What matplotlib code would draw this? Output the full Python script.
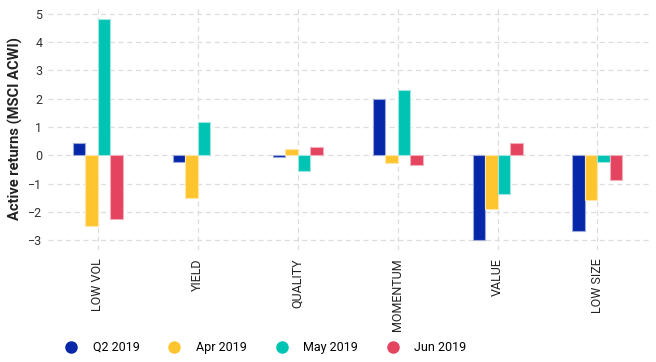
import matplotlib
matplotlib.use("Agg")
import matplotlib.pyplot as plt
import numpy as np
from matplotlib.lines import Line2D

plt.rcParams['font.family'] = ['Roboto', 'DejaVu Sans']

categories = ["LOW VOL", "YIELD", "QUALITY", "MOMENTUM", "VALUE", "LOW SIZE"]
series_names = ["Q2 2019", "Apr 2019", "May 2019", "Jun 2019"]
q2_2019 = [0.45, -0.23, -0.05, 1.97, -2.98, -2.66]
apr_2019 = [-2.50, -1.52, 0.23, -0.26, -1.89, -1.57]
may_2019 = [4.82, 1.18, -0.56, 2.32, -1.38, -0.25]
jun_2019 = [-2.25, np.nan, 0.30, -0.34, 0.43, -0.88]
series = [q2_2019, apr_2019, may_2019, jun_2019]
colors = ["#0527A8", "#FFC52F", "#00C4B3", "#E4445F"]
edge_colors = ["#9FA9D9", "#FFE5A8", "#9FE8E1", "#F3AEBB"]

fig = plt.figure(figsize=(6.56, 3.62), dpi=100)
ax = fig.add_axes([0.073, 0.309, 0.917, 0.669])

x = np.arange(len(categories))
w = 0.125
for i, (vals, c, ec) in enumerate(zip(series, colors, edge_colors)):
    ax.bar(x + (i - 1.5) * w, vals, width=w, color=c, edgecolor=ec, linewidth=0.8, zorder=3)

ax.set_xlim(-0.5, 5.52)
ax.set_ylim(-3.35, 5.2)
ax.set_yticks(range(-3, 6))
ax.set_yticklabels([str(v).replace('-', '\u2212') for v in range(-3, 6)])
ax.set_xticks(x)
ax.set_xticklabels(categories, rotation=90, fontsize=9, color='#222222')
ax.tick_params(axis='y', labelsize=9, labelcolor='#333333', length=0, pad=4)
ax.tick_params(axis='x', length=0, pad=6)
for s in ax.spines.values():
    s.set_visible(False)
ax.grid(True, color='#dddddd', linestyle=(0, (4, 3)), linewidth=0.9, zorder=0)
ax.set_axisbelow(True)
ax.set_ylabel("Active returns (MSCI ACWI)", fontsize=10.5, fontweight='bold', color='#222222', labelpad=4)

handles = [Line2D([0], [0], marker='o', linestyle='none', markersize=8, markerfacecolor=c,
                  markeredgecolor=c) for c in colors]
fig.legend(handles, series_names, loc='center', bbox_to_anchor=(0.405, 0.04), ncol=4,
           frameon=False, fontsize=9, handletextpad=1.2, columnspacing=2.3, handlelength=1.0)

fig.savefig("out.png", dpi=100)
